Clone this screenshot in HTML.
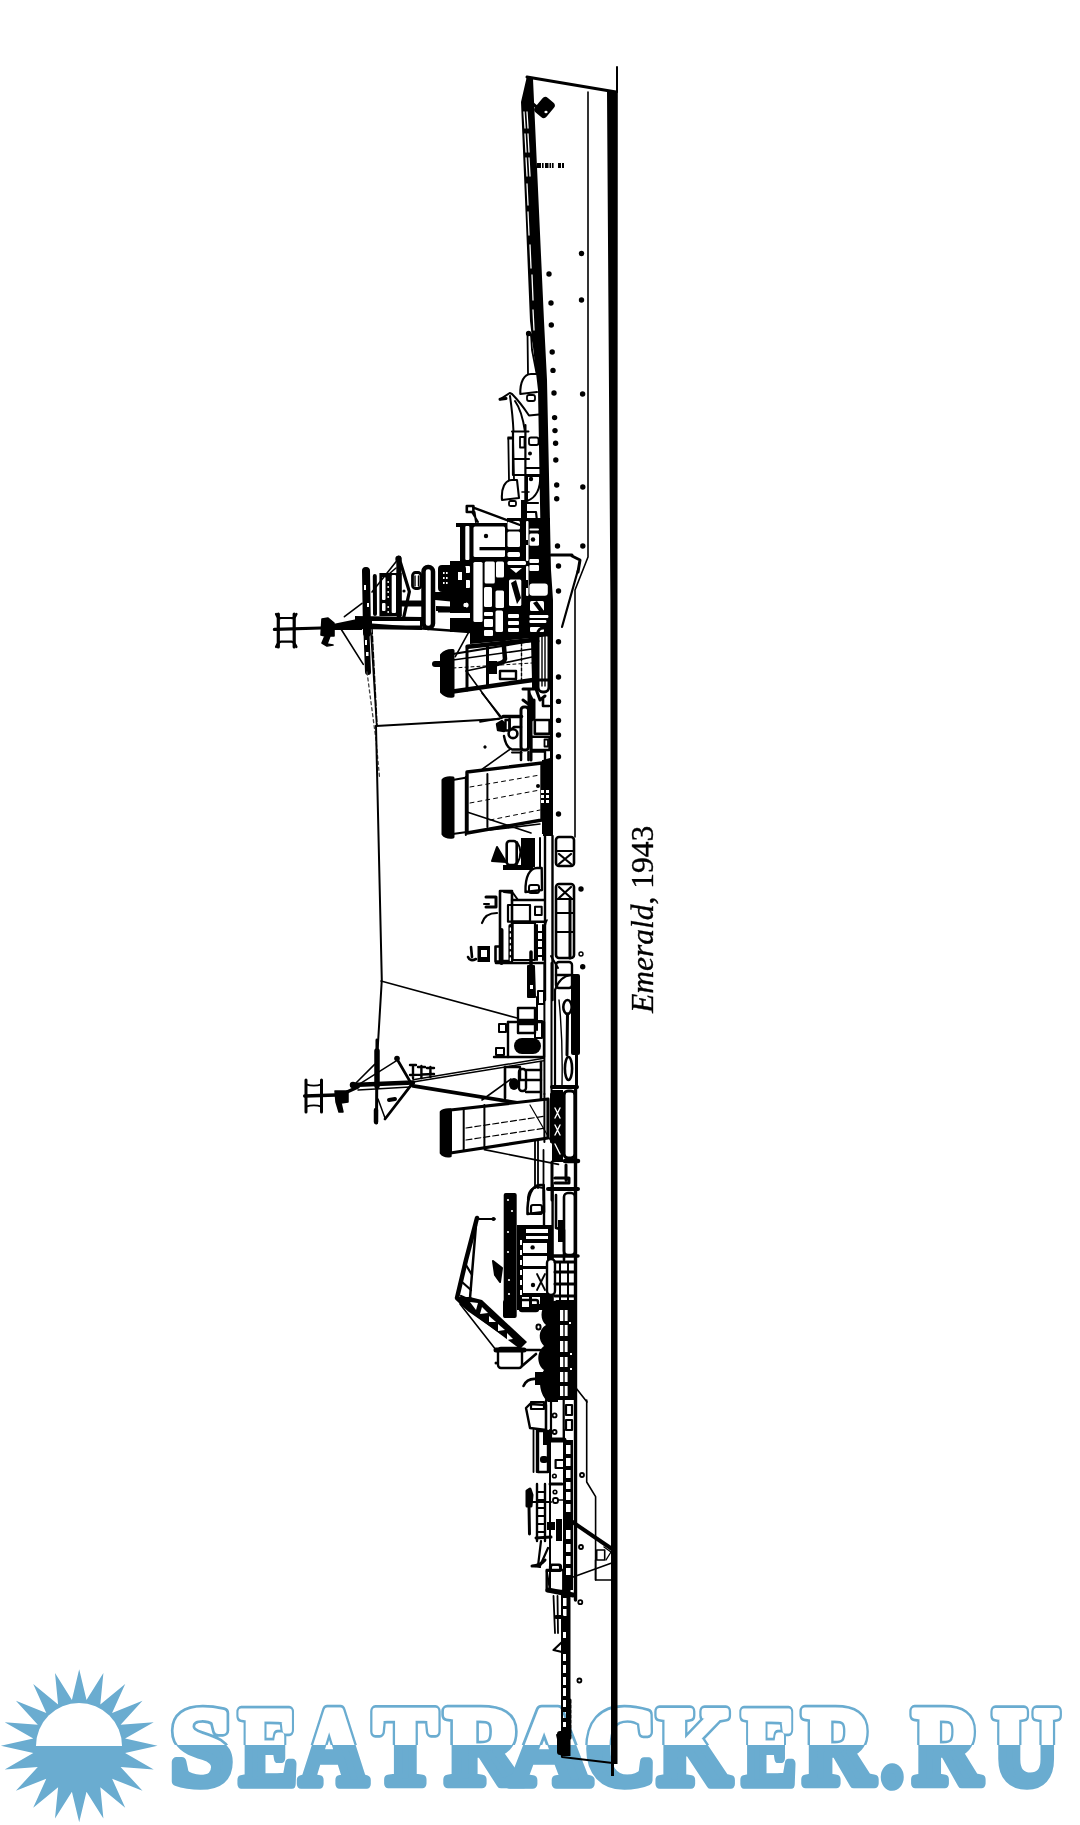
<!DOCTYPE html>
<html><head><meta charset="utf-8">
<style>
html,body{margin:0;padding:0;background:#fff;width:1080px;height:1825px;overflow:hidden}
svg{display:block}
</style></head><body>
<svg width="1080" height="1825" viewBox="0 0 1080 1825">
<defs>
<clipPath id="topc"><rect x="0" y="1600" width="1080" height="145"/></clipPath>
<clipPath id="botc"><rect x="0" y="1745" width="1080" height="80"/></clipPath>
</defs>
<g id="ship" fill="none" stroke="#000" stroke-linecap="round" stroke-linejoin="round">
<!-- waterline -->
<polygon points="607,92 617.8,92 617.5,600 617.5,1764 611,1764 611,1300 610.4,600" fill="#000" stroke="none"/><rect x="611" y="1763" width="3" height="13" fill="#000" stroke="none"/>
<line x1="617" y1="67" x2="617" y2="92" stroke-width="2"/>
<path d="M527 77 L616 92" stroke-width="3"/>
<path d="M588 92 L588 557 L575 590 L575 837" stroke-width="1.6"/>
<!-- R1 stern -->
<polygon points="521,102 527,76 533,79 544,321 547,380 551,570 553,600 553,836 543,836 543,760 550,758 550,640 542,628 541,560 538,390 530,321" fill="#000" stroke="none"/>
<g stroke="#fff" stroke-width="1.3">
<path d="M524 112 L525 128 M527 112 L528 128 M525 134 L526 152 M528 134 L529 152 M526 158 L527 176 M529 158 L530 176 M527 184 L528 205 M528 212 L529 235 M530 245 L531 268 M532 275 L533 300 M533 310 L534 330"/>
</g>
<rect x="537" y="98" width="15" height="19" rx="4" transform="rotate(40 544.5 107.5)" fill="#000" stroke="none"/><ellipse cx="546" cy="112" rx="1.6" ry="1.2" fill="#fff" stroke="none"/><path d="M533 104 L538 108" stroke-width="3"/>
<g fill="#000" stroke="none"><rect x="537" y="163" width="4" height="5"/><rect x="542" y="163" width="1.6" height="5"/><rect x="545" y="163" width="3.5" height="5"/><rect x="549.5" y="163" width="1.6" height="5"/><rect x="552" y="163" width="1.6" height="5"/><rect x="558" y="163" width="3" height="5"/><rect x="562" y="163" width="2" height="5"/></g>
<!-- R2 y320-560 -->
<g fill="#000" stroke="none">
<circle cx="581.5" cy="253.5" r="2.7"/><circle cx="549" cy="274" r="2.7"/><circle cx="551" cy="303" r="2.7"/><circle cx="551.3" cy="325" r="2.7"/><circle cx="581.5" cy="300" r="2.7"/>
<circle cx="552.2" cy="352" r="2.7"/><circle cx="553" cy="370.4" r="2.7"/><circle cx="554" cy="393" r="2.7"/><circle cx="582.6" cy="394" r="2.7"/><circle cx="554.6" cy="417.6" r="2.7"/><circle cx="555" cy="430.6" r="2.7"/><circle cx="555.6" cy="443.3" r="2.7"/><circle cx="555.8" cy="460" r="2.7"/><circle cx="556.7" cy="485" r="2.7"/><circle cx="582.8" cy="487" r="2.7"/><circle cx="556.7" cy="498.8" r="2.7"/><circle cx="557.5" cy="546" r="2.7"/><circle cx="582.8" cy="546" r="2.7"/>
</g>
<g stroke-width="1.8">
<path d="M527.5 333 L528 374 M531 334 L532 350 L536.5 373"/>
<circle cx="528.6" cy="333.5" r="1.8" fill="#000"/>
<path d="M531 335 L536 335 L537 352 Z" fill="#000"/>
<path d="M520.3 394 C520 382 524 374 531 374 L537 374 M520.3 394 L537 392" stroke-width="2.1"/>
<rect x="527" y="395" width="8" height="6" rx="2" stroke-width="1.8"/>
<path d="M500 399.3 L509.7 393 L512 394 C518 400 522 405 529 415.5 L539 414.5" stroke-width="2"/>
<path d="M500 399.3 L506 398.5" stroke-width="3"/>
<path d="M510 396 C512 410 513 420 513.5 431.6 M515 401 C520 408 523 418 525 431.6 M512 431.6 L528.5 431.6" stroke-width="2"/>
<!-- aft control block -->
<path d="M513 432 L513 475 M525.4 425 L525.4 560 M513 459 L529 459 M513 475 L540 475 M527 468 L540 468" stroke-width="2.2"/>
<rect x="520" y="437" width="4.5" height="10.5" stroke-width="1.8"/>
<rect x="529" y="437.5" width="9.5" height="7.5" rx="2" stroke-width="1.8"/>
<circle cx="530" cy="453.5" r="2" fill="#000" stroke="none"/>
<path d="M508.3 438 L509 480 M513 438 L514 480" stroke-width="1.8"/>
<rect x="507.5" y="436.5" width="5" height="3" fill="#000" stroke="none"/>
<path d="M502 500 C501 488 505 480 512 480 L517 480 L519 498 Z" stroke-width="2.1"/>
<rect x="509" y="501" width="7" height="5" rx="1.5" stroke-width="1.8"/>
<path d="M527 476 L540 476 C541 488 536 498 527 501 Z" stroke-width="2"/>
<circle cx="531" cy="479" r="2.2" fill="#000" stroke="none"/>
<path d="M522 492 L529 492" stroke-width="1.6"/>
<rect x="521" y="500" width="6" height="60" fill="#000" stroke="none"/>
<path d="M527 503 L538 503 M527 512 L536 512 L537 521 L528 521 M527 529 L538 529 M527 540 L538 540 M532 552 L540 552" stroke-width="2.2"/>
<path d="M551 555 L572 555" stroke-width="3"/>
</g>
<!-- R3 y530-680 aft superstructure -->
<g stroke-width="2.2">
<!-- dense block right -->
<polygon points="456,523 507,523 507,518 550,518 550,636 532,638 470,644 470,632 450,632 450,561 460,561 460,527 456,527" fill="#000" stroke="none"/>
<g fill="#fff" stroke="none">
<rect x="473.5" y="526.5" width="31.5" height="30.5" rx="1.5"/>
<rect x="465.3" y="526" width="4.1" height="34" rx="1"/>
<rect x="507.5" y="521" width="12.5" height="8.5" rx="1.5"/>
<rect x="507.5" y="531.6" width="12.5" height="15.4" rx="1.5"/>
<rect x="507.5" y="552" width="12.5" height="5" rx="1.5"/>
<rect x="507.5" y="561" width="18.5" height="4" rx="1.5"/>
<polygon points="510,568 522,568 516,573"/>
<rect x="529.4" y="528.5" width="9.6" height="2" rx="1"/>
<rect x="529.4" y="533.6" width="9.6" height="12.2" rx="1.5"/>
<rect x="529.4" y="559" width="9.6" height="4" rx="1"/>
<rect x="529.4" y="565" width="9.6" height="6" rx="1"/>
<rect x="473.4" y="562" width="9.2" height="60" rx="1.5"/>
<rect x="484.6" y="561.5" width="10.2" height="22" rx="1.5"/>
<rect x="496" y="561.5" width="8" height="16" rx="1.5"/>
<rect x="509" y="579.4" width="12.3" height="26.6" rx="1.5"/>
<rect x="529.4" y="583.5" width="18.4" height="12.2" rx="3"/>
<rect x="495.5" y="590.6" width="8.5" height="17.4" rx="1.5"/>
<rect x="484" y="587" width="8" height="20" rx="1.5"/>
<rect x="484" y="612" width="9" height="4" rx="1"/>
<rect x="484" y="619" width="9" height="8" rx="1"/>
<rect x="495.5" y="610.5" width="7.5" height="21.5" rx="1.5"/>
<rect x="508" y="614" width="11" height="4" rx="1"/>
<rect x="508" y="621" width="11" height="4" rx="1"/>
<rect x="508" y="628" width="11" height="4" rx="1"/><rect x="484" y="630" width="9" height="6" rx="1"/><rect x="530" y="627" width="14" height="5" rx="1"/>
<rect x="529.4" y="615" width="19" height="3" rx="1"/>
<rect x="529.4" y="620" width="17" height="3" rx="1"/>
<rect x="530" y="601" width="14" height="10" rx="1.5"/>
<rect x="465" y="566" width="5" height="7" rx="1"/>
<rect x="464" y="580" width="6" height="8" rx="1"/>
<circle cx="466" cy="605" r="2.6"/>
<rect x="526" y="521" width="2.5" height="40" rx="1"/><rect x="526" y="566" width="2.5" height="30" rx="1"/>
<rect x="450" y="613" width="20" height="5"/>
</g>
<g fill="#000" stroke="none">
<rect x="479.5" y="547" width="25.5" height="3.3"/>
<circle cx="486" cy="536" r="2.2"/>
<circle cx="533" cy="539.5" r="2.2"/>
<polygon points="511,583 516,580 521,598 517,604"/>
<polygon points="533,603 537,601 544,611 539,611"/>
<rect x="526" y="540" width="2" height="5"/>
<rect x="526" y="580" width="2" height="8"/>
</g>
<path d="M466.8 506 L473.4 506 L473.4 512 L466.8 512 Z" fill="none" stroke-width="2.6"/>
<path d="M473.4 507.6 L521.3 525.5" stroke-width="2.4"/>
<path d="M472 512 L478 522 M474.5 512 L476 522" stroke-width="2"/>
<rect x="438" y="597" width="14" height="3" fill="#000" stroke="none"/>
<rect x="438" y="609" width="14" height="3.5" fill="#000" stroke="none"/>
<!-- pom-pom / directors -->
<rect x="438" y="565" width="28" height="27" rx="4" fill="#000" stroke="none"/>
<g fill="#fff" stroke="none"><rect x="443" y="572" width="1.6" height="2"/><rect x="446" y="572" width="1.6" height="2"/><rect x="443" y="577" width="1.6" height="2"/><rect x="446" y="577" width="1.6" height="2"/><rect x="443" y="582" width="1.6" height="2"/><rect x="446" y="582" width="1.6" height="2"/><rect x="458" y="572" width="4" height="8"/></g>
<rect x="423.5" y="567" width="9.5" height="61" rx="4.5" stroke-width="4.5"/>
<path d="M428 575 L428 622" stroke="#fff" stroke-width="1.2" stroke-dasharray="2 6"/>
<rect x="412.5" y="572.5" width="8.5" height="16" rx="3" stroke-width="2.8"/>
<path d="M415 576 L415 586 M418.5 576 L418.5 586" stroke-width="1.4"/>
<polygon points="435,592 466,592 466,603 435,600" fill="#000" stroke="none"/>
<polygon points="436,606 466,607 466,612 436,611" fill="#000" stroke="none"/>
<path d="M401.7 603.5 L422 603.5" stroke-width="6"/>
<!-- aft AA platform -->
<rect x="379.4" y="573" width="22.3" height="43" fill="#000" stroke="none"/>
<g fill="#fff" stroke="none">
<rect x="382" y="577" width="3.5" height="23" rx="1"/>
<rect x="391.7" y="575" width="4.3" height="38" rx="1"/>
<rect x="382" y="603" width="3.5" height="8" rx="1"/>
<circle cx="388.2" cy="582" r="0.9"/><circle cx="388.2" cy="587" r="0.9"/><circle cx="388.2" cy="592" r="0.9"/><circle cx="388.2" cy="597" r="0.9"/><circle cx="388.2" cy="607" r="0.9"/><circle cx="388.2" cy="612" r="0.9"/>
</g>
<path d="M374.8 576 L375 614" stroke-width="4"/>
<path d="M398.8 558 L399 616" stroke-width="5"/>
<circle cx="398.5" cy="559" r="3.2" fill="#000" stroke="none"/>
<path d="M400 561 L409.4 591.7 L402.8 621.7" stroke-width="3.2"/>
<path d="M396 568 L389 574" stroke-width="1.6"/>
<circle cx="404" cy="591" r="1.6" fill="#000" stroke="none"/>
<polygon points="355,616 422,617 422,630 355,629" fill="#000" stroke="none"/>
<rect x="372" y="621" width="48" height="4.5" fill="#fff" stroke="none"/>
<!-- mainmast -->
<path d="M366 571 L367 633" stroke-width="8"/>
<path d="M366.5 633 L368 672" stroke-width="6"/>
<g fill="#fff" stroke="none"><rect x="364" y="585" width="2" height="5"/><rect x="367" y="603" width="2" height="4"/><rect x="365" y="640" width="2" height="5"/><rect x="366" y="652" width="2.5" height="4"/></g>
<circle cx="366" cy="571" r="3.5" fill="#000" stroke="none"/>
<path d="M367 672 L376 740 L379.6 778" stroke-width="1.3" stroke-dasharray="3 3" stroke="#444"/>
<path d="M371 633 L376.7 726" stroke-width="1.6"/>
<path d="M274.4 629.4 L321 628" stroke-width="3.2"/>
<polygon points="333,624 362,618 362,630 333,630" fill="#000" stroke="none"/>
<path d="M362 624 L470 632" stroke-width="2.4"/>
<path d="M344.4 616.7 L362 603.3 M341 629 L363.3 664.4 M372 592 L399 558" stroke-width="1.6"/>
<path d="M322 619 L328 618 L334 623 L334 636 L330 636 L327 644 L333 645 L327 646 L322 643 L325 636 L321 635 Z" fill="#000" stroke-width="1.6"/>
<!-- H yard -->
<path d="M278.3 614 L278.3 647 M294.2 614 L294.2 647" stroke-width="3.2"/>
<path d="M276 614 Q278 619 281 618 L291.5 618 Q294.5 619 296.5 614 M276 647 Q278 642 281 641.7 L291.5 641.7 Q294.5 642 296.5 647" stroke-width="2.2"/>
</g>
<!-- R4 funnel1 y620-740 -->
<g stroke-width="2.2">
<circle cx="558.5" cy="566" r="2.7" fill="#000" stroke="none"/><circle cx="558.5" cy="591" r="2.7" fill="#000" stroke="none"/>
<circle cx="558.5" cy="641.7" r="2.7" fill="#000" stroke="none"/><circle cx="558.5" cy="677" r="2.7" fill="#000" stroke="none"/><circle cx="558.5" cy="701.4" r="2.7" fill="#000" stroke="none"/><circle cx="558.5" cy="720.4" r="2.7" fill="#000" stroke="none"/><circle cx="558.5" cy="735" r="2.7" fill="#000" stroke="none"/>
<path d="M578 570 L562 627" stroke-width="2.2"/>
<path d="M572 556 L580 560 L578 572" stroke-width="3"/>
<!-- funnel body -->
<path d="M453 654 L532 641 L533 680 L453 691 Z" fill="#fff" stroke-width="2"/>
<path d="M467.6 646.7 L532 640" stroke-width="4.5"/>
<path d="M453 691.5 L533 680" stroke-width="4.5"/>
<path d="M441.5 655 Q446 650 453 650.5 L453 696 Q446 697 441.5 692 Z" fill="#000" stroke-width="3"/>
<path d="M435 664 L442 664" stroke-width="6"/>
<path d="M467 648 L467 690 M487.5 646 L487.5 686" stroke-width="3"/>
<path d="M521.5 643 L521.5 680" stroke-width="1.4" stroke-dasharray="3 2"/>
<path d="M503.5 641 L505 659 Q504 663 497 664" stroke-width="4.5" fill="none"/>
<rect x="488" y="661" width="9" height="13" fill="#000" stroke="none"/>
<path d="M453 660 L532 649 M466 671 L532 657" stroke-width="1.6"/>
<path d="M453 668 L532 663" stroke-width="1" stroke-dasharray="3 3"/>
<rect x="500" y="671" width="16" height="8" stroke-width="2.4"/>
<path d="M466.4 671 L500 717 M455.3 656.7 L468.7 632.2" stroke-width="1.6"/>
<!-- motor boat -->
<rect x="532" y="636" width="7" height="54" fill="#000" stroke="none"/><path d="M523 689 L536 689 L540 700 L545 696 M523 700 L531 706" stroke-width="3"/>
<rect x="538" y="628" width="11" height="64" rx="5" stroke-width="3"/>
<path d="M542 634 L542 686 M545 634 L545 686" stroke-width="1.4"/>
<path d="M534 641 L538 641 M536 680 L548 680" stroke-width="3"/>
<!-- aft wire -->
<path d="M376 726 L499 719" stroke-width="1.8"/>
<path d="M372 628 L377 725" stroke-width="1.5" stroke-dasharray="6 2"/>
<!-- lower block -->
<path d="M503 716.5 L521.5 716.5" stroke-width="3.5"/>
<path d="M497 724 L502 721 L505 724 L504 731 L498 730 Z" fill="#000" stroke-width="2.4"/>
<rect x="505.5" y="720" width="4" height="10.5" stroke-width="2.4"/>
<path d="M509.6 719 L509.6 731 L514 727 L521 727" stroke-width="2.6"/>
<circle cx="513" cy="733.7" r="4.4" fill="#fff" stroke-width="2.6"/>
<path d="M504 736 C505 742 508 748 512 749.5 L521.5 749.5" stroke-width="2.4"/>
<path d="M512 752.5 L521.5 752.5" stroke-width="2"/>
<rect x="521" y="707" width="7.5" height="43" rx="3" stroke-width="3"/>
<path d="M521 752 L521 760 M528.5 752 L528.5 760" stroke-width="2.6"/>
<path d="M529 690 L529 718 Q531 722 534 718 L534 700" fill="#000" stroke-width="3"/>
<path d="M534.8 720 L549.6 720 L549.6 733.7 L534.8 733.7 Z" stroke-width="2.6"/>
<path d="M531 736.7 L549.6 736.7 L549.6 750 L531 750 Z" stroke-width="2.6"/>
<rect x="544.5" y="739.5" width="3.5" height="7" stroke-width="1.8"/>
<path d="M531 751.5 L545 751.5 L545 760.4" stroke-width="2.4"/>
<path d="M531 720 L531 760" stroke-width="3"/>
<path d="M543 699 L543 706 L549 706" stroke-width="2.6"/>
<path d="M480 721.8 L502 718 M482 693 L502 718" stroke-width="1.8"/>
<circle cx="485" cy="747" r="1.4" fill="#000" stroke="none"/>
</g>
<!-- R5 funnel2 y730-850 -->
<g stroke-width="2.2">
<circle cx="558.5" cy="756.7" r="2.7" fill="#000" stroke="none"/><circle cx="558.5" cy="814" r="2.7" fill="#000" stroke="none"/>
<circle cx="485" cy="747" r="1.5" fill="#000" stroke="none"/>
<path d="M467 772 L542 763 L542 820 L467 833 Z" fill="#fff" stroke-width="3.4"/>
<path d="M452.6 780 L467 777.5 M452.6 834 L467 832" stroke-width="2"/>
<path d="M443 780 Q446 777 453 778 L453 837 Q446 838 443 834 Z" fill="#000" stroke-width="3"/>
<path d="M465.8 777 L465.8 835 M487.4 774 L487.4 827" stroke-width="2"/>
<path d="M470 787 L540 775 M470 803 L540 790 M490 820 L540 810" stroke-width="1" stroke-dasharray="4 4"/>
<path d="M482.5 769 L511 748.5 M467 812 L531 833 M490 830 L540 824" stroke-width="1.6"/>
<rect x="542" y="760" width="9" height="74" fill="#000" stroke="none"/>
<g fill="#fff" stroke="none"><rect x="541" y="790" width="3" height="3"/><rect x="546" y="790" width="3" height="3"/><rect x="541" y="795" width="3" height="3"/><rect x="546" y="795" width="3" height="3"/><rect x="541" y="800" width="3" height="3"/><rect x="546" y="800" width="3" height="3"/></g>
<circle cx="538" cy="786" r="2" fill="#000" stroke="none"/>
</g>
<!-- R6 y840-960 -->
<g stroke-width="2.2">
<!-- deck edge after break -->
<path d="M545 836 L545 1000 M552.5 836 L552.5 1000" stroke-width="2.4"/>
<!-- X boxes -->
<rect x="556" y="837" width="18" height="29" rx="3" stroke-width="2.6"/>
<path d="M556 851 L574 851 M559 854 L571 864 M571 854 L559 864" stroke-width="2.2"/>
<rect x="556" y="884" width="18" height="74" rx="3" stroke-width="2.6"/>
<path d="M559 887 L571 898 M571 887 L559 898 M556 899 L574 899 M556 913 L574 913 M556 932 L574 932" stroke-width="2.2"/>
<path d="M570 899 L570 958" stroke-width="3"/>
<circle cx="581" cy="889" r="2.7" fill="#000" stroke="none"/>
<circle cx="581" cy="954" r="2" stroke-width="1.4"/>
<!-- searchlight / gun top -->
<path d="M492 861 L497 847 L503 857 L506 862 Z" fill="#000" stroke-width="2"/>
<rect x="506.7" y="841" width="10" height="24" rx="3" stroke-width="2.6"/>
<path d="M517 842 Q524 852 517 864" stroke-width="2"/>
<rect x="521" y="838" width="14" height="29" fill="#000" stroke="none"/><path d="M540 838 L540 868" stroke-width="2"/>
<rect x="503" y="865" width="30" height="5" fill="#000" stroke="none"/>
<path d="M525.5 892 C525 876 530 868 537 868 L541.7 868 L542 890 Z" stroke-width="2.4"/>
<rect x="529" y="885" width="10" height="8" rx="2" stroke-width="2"/>
<!-- bridge -->
<rect x="500" y="891" width="12" height="70" stroke-width="2.6"/>
<path d="M512 900 L544 900 M512 921.7 L544 921.7" stroke-width="2.4"/>

<path d="M504 892 L513 893 L518 900" stroke-width="2"/>
<rect x="508" y="905" width="22" height="16.7" stroke-width="2.2"/>
<rect x="535" y="906.7" width="6.7" height="8.3" stroke-width="2"/>
<path d="M537 925 L537 960 M543 925 L543 960" stroke-width="2"/>
<path d="M537 932 L543 932 M537 940 L543 940 M537 948 L543 948 M537 956 L543 956" stroke-width="2"/>
<rect x="512.5" y="923" width="22.5" height="37" stroke-width="2.2"/>
<path d="M486 897 L496 897 L496 907 L486 907" stroke-width="3"/>
<path d="M484 904 L489 904" stroke-width="2"/>
<path d="M482 923 Q485 913 497 913" stroke-width="2.2"/>
<path d="M547 920 Q544 925 545 935" stroke-width="1.6"/>
</g>
<!-- R7 y950-1080 -->
<g stroke-width="2.2">
<circle cx="582.7" cy="966.7" r="2.7" fill="#000" stroke="none"/>
<path d="M496 963 L544 963" stroke-width="2.6"/>
<path d="M468 957 Q470 962 476 959 M471 947 L472 957" stroke-width="2.6"/>
<path d="M477.5 946 L490 946 L490 962 L477.5 962 Z" fill="#000" stroke="none"/>
<rect x="481" y="950" width="6" height="7" fill="#fff" stroke="none"/>
<rect x="495.5" y="946.5" width="6" height="15" stroke-width="2.6"/>
<path d="M501.5 930 L501.5 963" stroke-width="4"/>
<path d="M510.4 926 L510.4 962" stroke-width="4"/>
<path d="M510.4 928 L510.4 962" stroke="#fff" stroke-width="1.3" stroke-dasharray="2.5 3.5"/>
<path d="M531 952 L531 976" stroke-width="3.5"/>
<path d="M544.4 963 L544.4 1094 M551.5 963 L551.5 1094" stroke-width="2"/>
<!-- boat -->
<path d="M555 990 L555 1087" stroke-width="2.2"/>
<path d="M555 990 Q560 976 571 975" stroke-width="2.2"/>
<rect x="571" y="974" width="9" height="81" rx="2" fill="#000" stroke="none"/>
<ellipse cx="567.5" cy="1007" rx="4.2" ry="7" stroke-width="2.6"/>
<path d="M567.5 1014 L567 1055" stroke-width="3"/>
<path d="M559 1000 Q563 1040 562 1085" stroke-width="1.4"/>
<rect x="556" y="962" width="16" height="26" rx="3" stroke-width="2.4"/>
<path d="M556 975 L571 975" stroke-width="2.4"/>
<path d="M551 956 L558 968" stroke-width="2"/>
<path d="M528 966 L534 966 L535 997 L528 997 Z" fill="#000" stroke-width="2"/>
<rect x="530" y="985" width="3" height="4" fill="#fff" stroke="none"/>
<rect x="538" y="991" width="6" height="13" stroke-width="2"/>
<path d="M537 997 L537 1030" stroke-width="2"/>
<rect x="518" y="1008" width="17" height="12" stroke-width="2.4"/>
<rect x="518" y="1024" width="17" height="9" stroke-width="2.4"/>
<path d="M508 1022 L544 1022 L544 1057 L494 1057" stroke-width="2.4"/>
<path d="M508 1022 L508 1057" stroke-width="2.4"/>
<rect x="499" y="1024" width="7" height="8" stroke-width="2"/>
<rect x="496" y="1048" width="8" height="7" stroke-width="2"/>
<rect x="514" y="1038" width="27" height="16" rx="8" fill="#000" stroke="none"/>
<rect x="535" y="1021" width="7" height="17" stroke-width="2"/>
<path d="M381 981 L517 1018" stroke-width="1.6"/>

</g>
<!-- R8 foremast + funnel3 y1040-1200 -->
<g stroke-width="2.2">
<path d="M306 1080 L306 1112 M321.5 1080 L321.5 1112" stroke-width="3"/>
<path d="M306 1084.4 Q314 1087 321.5 1084.4 M306 1106.7 Q314 1104 321.5 1106.7" stroke-width="1.8"/>
<path d="M304.7 1096 L336 1095" stroke-width="3.5"/>
<path d="M335 1091 L348 1091 L348 1102 L341 1103 L343 1112 L339 1112 L336 1102 Z" fill="#000" stroke-width="1.5"/>
<path d="M347 1092 L358 1087" stroke-width="3.5"/>
<circle cx="353" cy="1085" r="3.2" fill="#000" stroke="none"/>
<path d="M352 1085 L413 1082.5" stroke-width="4.5"/>
<path d="M413 1085.8 L544 1107.2" stroke-width="3.8"/>
<path d="M358 1090 L410 1087" stroke-width="1.5"/>
<path d="M377 1040 L376.5 1123" stroke-width="3"/>
<path d="M377 1051 L377 1086" stroke-width="5.5"/>
<path d="M376 1110 L376 1122" stroke-width="4.5"/>
<path d="M352.2 1086.8 L374.6 1064.4 M355 1086.8 L397 1060.4 M378 1099 L385 1118" stroke-width="1.5"/>
<path d="M396.4 1058 L411.7 1084.4 L385 1119" stroke-width="2.8"/>
<circle cx="397" cy="1058.5" r="2.8" fill="#000" stroke="none"/>
<path d="M389 1100 L395 1099" stroke-width="4"/>
<path d="M413 1065 L413 1078 M421.4 1066 L421.4 1078 M430.4 1067 L430.4 1077 M410 1065 L416 1065 M418 1067 L425 1067 M427 1068 L434 1068 M410 1075 L434 1074" stroke-width="2.4"/>
<path d="M413 1079.7 L543.7 1058.3 M413 1082 L543.7 1060.8" stroke-width="1.5"/>
<!-- structure near fwd funnel top -->
<path d="M505 1067 L505 1098 M541 1062 L541 1100" stroke-width="2.6"/>
<path d="M505 1067 L520 1067 L520 1080 L541 1080" stroke-width="2.4"/>
<ellipse cx="514" cy="1084" rx="5" ry="6" fill="#000" stroke="none"/>
<rect x="519" y="1069" width="7" height="22" rx="3" stroke-width="2.4"/>
<path d="M526 1070 L541 1070 M526 1092 L541 1092" stroke-width="2.4"/>
<path d="M482 1100 L511 1079" stroke-width="1.6"/>
<!-- funnel 3 -->
<path d="M450.4 1110 L548 1099 L548 1138 L450.4 1153 Z" fill="#fff" stroke-width="3.2"/>
<path d="M441 1112 Q444 1109 450.4 1109.6 L450.4 1156 Q444 1157 441 1153 Z" fill="#000" stroke-width="2.6"/>
<path d="M463.7 1108 L463.7 1151 M484.4 1105 L484.4 1148" stroke-width="2"/>
<path d="M466 1128 L546 1116 M466 1140 L546 1128" stroke-width="1.2" stroke-dasharray="6 3"/>
<path d="M484.4 1149.6 L558.5 1164.4" stroke-width="1.6"/>
<path d="M530 1105 L556 1150" stroke-width="1.2"/>
</g>
<!-- R9 right strip y1050-1200 -->
<g stroke-width="2.2">
<path d="M576.5 1050 L576.5 1088" stroke-width="3"/>
<ellipse cx="568.5" cy="1068.5" rx="3.6" ry="11.5" stroke-width="2.6"/>
<path d="M552 1087 L577 1087" stroke-width="4"/>
<rect x="564" y="1091" width="11" height="67" rx="4" stroke-width="3.2"/>
<path d="M575.5 1090 L575.5 1600" stroke-width="3.4"/>
<rect x="552" y="1090" width="11" height="72" fill="#000" stroke="none"/>
<path d="M555 1108 L560 1118 M560 1108 L555 1118 M555 1125 L560 1135 M560 1125 L555 1135 M555 1144 L560 1154" stroke="#fff" stroke-width="1.4"/>
<path d="M544.4 1094 L544.4 1142 M551 1094 L551 1142" stroke-width="2"/>
<path d="M565 1161 L578 1161" stroke-width="4.5"/>
<path d="M552 1162 L552 1200 M566 1165 L566 1180 M555 1178 L569 1178 L569 1183 L555 1183" stroke-width="3"/>
<path d="M535 1141 L535 1188 M538 1141 L538 1188 M543.5 1150 L543.5 1200" stroke-width="1.8"/>
<path d="M528 1200 C528 1192 532 1187 538 1187 L543.5 1188" stroke-width="2.2"/>
</g>
<!-- R10 y1180-1320 -->
<g stroke-width="2.2">
<path d="M527.5 1214 C527 1196 532 1185 540 1185 L543.7 1185 L544 1212 Z" stroke-width="2.6"/>
<rect x="531" y="1205" width="11" height="9" rx="2" stroke-width="2.2"/>
<path d="M544 1190 L544 1228 M552.6 1185 L552.6 1330" stroke-width="2.4"/>
<path d="M548 1189 L578 1189" stroke-width="4"/>
<rect x="564" y="1193" width="11" height="62" rx="4" stroke-width="2.6"/>
<path d="M556 1195 L556 1228 M556 1228 L564 1230 L564 1260" stroke-width="2.6"/>
<rect x="558" y="1220" width="5" height="22" fill="#000" stroke="none"/>
<path d="M552 1256 L578 1256" stroke-width="3.5"/>
<!-- crane post -->
<rect x="503.7" y="1193" width="13" height="125" rx="2" fill="#000" stroke="none"/>
<g fill="#fff" stroke="none"><circle cx="508" cy="1200" r="1.1"/><circle cx="512" cy="1211" r="1.1"/><circle cx="508" cy="1232" r="1.1"/><circle cx="508" cy="1252" r="1.1"/><circle cx="509" cy="1280" r="1.1"/><circle cx="509" cy="1294" r="1.1"/><circle cx="509" cy="1306" r="1.1"/></g>
<!-- crane boom -->
<path d="M477 1219 L494.8 1219" stroke-width="2"/>
<circle cx="493.5" cy="1219" r="2" fill="#000" stroke="none"/>
<path d="M477 1218 L466 1260 L457 1298 L470 1310 L503 1333" stroke-width="4.5"/>
<path d="M476 1225 L470 1298 L503 1322" stroke-width="2.5"/>
<path d="M466 1265 L472 1275 M462 1282 L471 1290 M461 1296 L470 1300 M473 1305 L480 1315 M482 1310 L488 1322" stroke-width="2.2"/>
<!-- hangar block -->
<rect x="517" y="1225" width="35" height="85" fill="#000" stroke="none"/>
<g fill="#fff" stroke="none">
<rect x="526" y="1229" width="22" height="4"/>
<rect x="526" y="1236" width="22" height="3"/>
<rect x="523" y="1243" width="24" height="10"/>
<rect x="523" y="1256" width="24" height="10"/>
<rect x="523" y="1269" width="24" height="24"/>
<rect x="520" y="1240" width="2" height="5"/><rect x="520" y="1250" width="2" height="5"/><rect x="520" y="1260" width="2" height="5"/><rect x="520" y="1270" width="2" height="5"/><rect x="520" y="1280" width="2" height="5"/><rect x="520" y="1290" width="2" height="5"/>
<rect x="522" y="1297" width="7" height="10"/><rect x="532" y="1297" width="8" height="7"/>
</g>
<circle cx="532.6" cy="1247.4" r="2.2" fill="#000" stroke="none"/>
<circle cx="533" cy="1285" r="2.2" fill="#000" stroke="none"/>
<path d="M537 1274 L545 1290 M545 1274 L537 1290" stroke-width="1.8"/>
<rect x="547" y="1259" width="8" height="36" rx="4" fill="#fff" stroke-width="2.4"/>
<path d="M555 1262 L575 1262 M555 1272 L575 1272 M555 1284 L575 1284 M555 1296 L575 1296" stroke-width="3"/>
<path d="M560 1262 L560 1310 M568 1262 L568 1310" stroke-width="2"/>
<path d="M493 1261 L502 1268 L500 1282 L495 1275 Z" fill="#000" stroke-width="2"/>
</g>
<!-- R11 y1300-1440 -->
<g stroke-width="2.2">
<polygon points="457,1297 470,1297 482,1300 527,1342 520,1349 460,1304" fill="#000" stroke="none"/>
<g fill="#fff" stroke="none">
<polygon points="470,1302 478,1303 476,1310"/>
<polygon points="482,1307 488,1313 480,1314"/>
<polygon points="489,1316 496,1322 489,1322"/>
<polygon points="498,1324 505,1330 498,1331"/>
<polygon points="507,1333 513,1339 507,1340"/>
</g>
<path d="M460 1304 L497.6 1352" stroke-width="1.6"/>
<rect x="498" y="1348" width="24" height="20" rx="3" stroke-width="2.4"/>
<path d="M496 1350 L524 1350" stroke-width="5"/>
<path d="M522 1366 L536 1354 M524 1350 L540 1350" stroke-width="2.6"/>
<circle cx="496" cy="1363" r="1.5" fill="#000" stroke="none"/>
<!-- black column with slots -->
<rect x="556" y="1300" width="21" height="100" fill="#000" stroke="none"/>
<g fill="#fff" stroke="none">
<rect x="560" y="1310" width="7.6" height="11"/><rect x="560" y="1325" width="7.6" height="11"/><rect x="560" y="1341" width="7.6" height="11"/><rect x="560" y="1357" width="7.6" height="10"/><rect x="560" y="1372" width="7.6" height="10"/><rect x="560" y="1386" width="7.6" height="10"/>
<rect x="569" y="1322" width="2" height="2"/><rect x="570" y="1353" width="2" height="2"/><rect x="570" y="1368" width="2" height="2"/>
</g>
<path d="M564 1310 L564 1396" stroke-width="1.4"/>
<!-- dark AA blobs -->
<path d="M546 1303 C540 1310 540 1320 546 1325 C538 1330 538 1340 544 1346 C536 1352 537 1365 544 1370 C537 1380 540 1395 548 1402 L558 1402 L558 1300 Z" fill="#000" stroke="none"/>
<rect x="536.5" y="1324.6" width="4" height="5" rx="2" stroke-width="2"/>
<path d="M523.5 1386 Q527 1378 536.5 1379" stroke-width="2.6"/>
<rect x="535" y="1372" width="8" height="13" fill="#000" stroke="none"/>
<rect x="503" y="1300" width="12" height="18" rx="2" fill="#000" stroke="none"/>
<rect x="520" y="1300" width="18" height="11" rx="2" stroke-width="2.4"/>
<!-- knuckle -->
<path d="M574 1385.6 L587 1402" stroke-width="1.6"/>
<!-- fwd shield -->
<path d="M526 1408 L530 1428 L546 1430 L546 1405 L530 1404 Z" stroke-width="2.4"/>
<rect x="531" y="1402" width="13" height="7" stroke-width="2.2"/>
<path d="M546 1400 L546 1440 M551 1400 L551 1440 M563.7 1400 L563.7 1440" stroke-width="2.2"/>
<circle cx="554.6" cy="1415.4" r="2" stroke-width="1.8"/>
<circle cx="554.6" cy="1432" r="2" stroke-width="1.8"/>
<path d="M566 1405 L572 1405 L572 1415 L566 1415 Z M566 1420 L572 1420 L572 1430 L566 1430 Z" stroke-width="2.2"/>
</g>
<!-- R12 y1430-1590 bow -->
<g stroke-width="2.2">
<rect x="564.4" y="1440" width="8.6" height="150" fill="#000" stroke="none"/>
<g fill="#fff" stroke="none">
<rect x="566" y="1445" width="4.5" height="9"/><rect x="566" y="1458" width="4.5" height="8"/><rect x="566" y="1470" width="4.5" height="8"/><rect x="566" y="1482" width="4.5" height="7"/><rect x="566" y="1492" width="4.5" height="8"/><rect x="566" y="1504" width="4.5" height="8"/><rect x="566" y="1530" width="4.5" height="9"/><rect x="566" y="1544" width="4.5" height="8"/><rect x="566" y="1556" width="4.5" height="8"/><rect x="566" y="1568" width="4.5" height="7"/>
</g>
<path d="M586.7 1400 L586.7 1482 L595.6 1496.7 L595.6 1580 L611 1580" stroke-width="1.6"/>
<circle cx="582" cy="1475" r="2" stroke-width="1.8"/>
<circle cx="581" cy="1547" r="2" stroke-width="1.8"/>
<path d="M571 1521 L612 1549" stroke-width="4"/>
<path d="M571 1577.8 L611 1563.3" stroke-width="1.6"/>
<rect x="596.7" y="1550" width="8" height="10" stroke-width="1.6"/>
<path d="M604 1547 L611 1552 L606 1560" stroke-width="1.4"/>
<!-- left structures -->
<path d="M533.5 1430 L533.5 1472 M536.7 1430 L536.7 1472" stroke-width="1.8"/>
<rect x="538" y="1431" width="10" height="41" stroke-width="2.4"/>
<rect x="543" y="1431" width="6" height="14" fill="#000" stroke="none"/>
<rect x="540" y="1456" width="8" height="7" rx="3" fill="#000" stroke="none"/>
<path d="M550 1430 L550 1590 M564 1430 L564 1590" stroke-width="2"/>
<path d="M550 1440 L564 1440" stroke-width="5"/>
<rect x="555.6" y="1460" width="8.8" height="8" stroke-width="2.2"/>
<circle cx="554.4" cy="1476" r="1.8" stroke-width="1.6"/>
<circle cx="555" cy="1492" r="1.8" stroke-width="1.6"/>
<path d="M550 1484 L562 1484" stroke-width="3"/>
<rect x="553" y="1498" width="5" height="5" rx="2" stroke-width="1.8"/>
<path d="M558 1500 L564 1500" stroke-width="1.6"/>
<path d="M527 1491 L530 1489 L532 1495 L531 1506 L527 1506 Z" fill="#000" stroke-width="3"/>
<path d="M529 1506 L529.5 1534" stroke-width="3"/>
<path d="M532 1502 L551 1502" stroke-width="2"/>
<path d="M537 1484 L537 1541 M545 1484 L545 1541" stroke-width="2.4"/>
<path d="M537 1492 L545 1492 M537 1500 L545 1500 M537 1508 L545 1508 M537 1516 L545 1516 M537 1524 L545 1524 M537 1532 L545 1532" stroke-width="2"/>
<rect x="547" y="1522" width="8" height="8" fill="#000" stroke="none"/>
<rect x="556" y="1519" width="6" height="22" fill="#000" stroke="none"/>
<path d="M536 1538 L551 1537" stroke-width="3"/>
<path d="M541 1541 L538 1566 M548 1548 L540 1566 M533 1566 L540 1567" stroke-width="2.2"/>
<path d="M546.7 1571 L550 1590 M546.7 1571 L562 1570" stroke-width="2"/>
<rect x="551" y="1565" width="9" height="6" rx="2" stroke-width="2"/>
</g>
<!-- R13 y1560-1770 bow end -->
<g stroke-width="2.2">
<rect x="561" y="1590" width="9.5" height="166" fill="#000" stroke="none"/>
<g fill="#fff" stroke="none">
<rect x="563" y="1598" width="3.5" height="8"/><rect x="563" y="1609" width="3.5" height="7"/><rect x="563" y="1632" width="3" height="6"/><rect x="563" y="1654" width="3" height="7"/><rect x="563" y="1665" width="3" height="8"/><rect x="563" y="1677" width="3" height="8"/><rect x="563" y="1688" width="3" height="8"/><rect x="563" y="1700" width="3" height="7"/><rect x="563" y="1712" width="3" height="6"/><rect x="563" y="1722" width="3" height="5"/>
</g>
<path d="M570 1700 L570 1740" stroke-width="3" stroke-dasharray="3 2"/>
<path d="M557 1735 L562 1757 L612.6 1763" stroke-width="1.8"/>
<rect x="557" y="1731" width="8" height="24" rx="3" fill="#000" stroke="none"/>
<rect x="546.7" y="1570" width="16.6" height="21" stroke-width="2.4"/>
<rect x="550" y="1564.5" width="11" height="6.5" rx="2" stroke-width="2.2"/>
<path d="M548 1590 L573 1595" stroke-width="5"/>
<path d="M553.5 1596 L555 1633 M557.5 1596 L558 1633" stroke-width="1.8"/>
<path d="M556 1617 L562 1617" stroke-width="4"/>
<path d="M562 1642 L553.5 1650 L562 1652" stroke-width="2.2"/>
<circle cx="580.3" cy="1602.2" r="2" stroke-width="1.8"/>
<circle cx="579.4" cy="1680.5" r="2" stroke-width="1.8"/>
<path d="M595.6 1560 L595.6 1580" stroke-width="1.6"/>
<path d="M532 1566 Q540 1566 545 1560" stroke-width="3"/>
</g>
<!-- antenna wire -->
<path d="M376 726 L381.8 980 L377 1060" stroke-width="2" fill="none"/>
</g>
<g id="mark" style="mix-blend-mode:multiply">
<g fill="#6aacd0" stroke="none">
<polygon points="157.5,1745.8 125.1,1738.5 153.7,1722.2 120.6,1724.7 142.5,1700.8 112.1,1712.9 125.2,1683.9 100.3,1704.4 103.4,1673.0 86.5,1699.9 79.2,1669.3 71.9,1699.9 55.0,1673.0 58.1,1704.4 33.2,1683.9 46.3,1712.9 15.9,1700.8 37.8,1724.7 4.7,1722.2 33.3,1738.5 0.9,1745.8 33.3,1753.1 4.7,1769.4 37.8,1766.9 15.9,1790.8 46.3,1778.7 33.2,1807.7 58.1,1787.2 55.0,1818.6 71.9,1791.7 79.2,1822.3 86.5,1791.7 103.4,1818.6 100.3,1787.2 125.2,1807.7 112.1,1778.7 142.5,1790.8 120.6,1766.9 153.7,1769.4 125.1,1753.1"/>
</g>
<path d="M36 1746 A43 43 0 0 1 122 1746 Z" fill="#fff"/>
<g font-family="Liberation Serif" font-weight="bold" font-size="114" fill="#6aacd0" stroke="#6aacd0" stroke-width="12.8" stroke-linejoin="round" clip-path="url(#topc)">
<text transform="translate(170.8 1784) scale(0.975 0.97)">S</text>
<text transform="translate(239.8 1784) scale(0.755 0.97)">E</text>
<text transform="translate(300.1 1784) scale(0.818 0.97)">A</text>
<text transform="translate(374.1 1784) scale(0.826 0.97)">T</text>
<text transform="translate(445.6 1784) scale(0.940 0.97)">R</text>
<text transform="translate(508.8 1784) scale(0.993 0.97)">A</text>
<text transform="translate(585.8 1784) scale(0.853 0.97)">C</text>
<text transform="translate(658.1 1784) scale(0.829 0.97)">K</text>
<text transform="translate(742.6 1784) scale(0.705 0.97)">E</text>
<text transform="translate(803.2 1784) scale(0.854 0.97)">R</text>
<text transform="translate(880.8 1784) scale(0.807 0.97)">.</text>
<text transform="translate(913.1 1784) scale(0.822 0.97)">R</text>
<text transform="translate(993.2 1784) scale(0.800 0.97)">U</text>
</g>
<g font-family="Liberation Serif" font-weight="bold" font-size="114" fill="#fff" stroke="#fff" stroke-width="7.2" stroke-linejoin="round" clip-path="url(#topc)">
<text transform="translate(170.8 1784) scale(0.975 0.97)">S</text>
<text transform="translate(239.8 1784) scale(0.755 0.97)">E</text>
<text transform="translate(300.1 1784) scale(0.818 0.97)">A</text>
<text transform="translate(374.1 1784) scale(0.826 0.97)">T</text>
<text transform="translate(445.6 1784) scale(0.940 0.97)">R</text>
<text transform="translate(508.8 1784) scale(0.993 0.97)">A</text>
<text transform="translate(585.8 1784) scale(0.853 0.97)">C</text>
<text transform="translate(658.1 1784) scale(0.829 0.97)">K</text>
<text transform="translate(742.6 1784) scale(0.705 0.97)">E</text>
<text transform="translate(803.2 1784) scale(0.854 0.97)">R</text>
<text transform="translate(880.8 1784) scale(0.807 0.97)">.</text>
<text transform="translate(913.1 1784) scale(0.822 0.97)">R</text>
<text transform="translate(993.2 1784) scale(0.800 0.97)">U</text>
</g>
<g font-family="Liberation Serif" font-weight="bold" font-size="114" fill="#6aacd0" stroke="#6aacd0" stroke-width="10" stroke-linejoin="round" clip-path="url(#botc)">
<text transform="translate(170.8 1784) scale(0.975 0.97)">S</text>
<text transform="translate(239.8 1784) scale(0.755 0.97)">E</text>
<text transform="translate(300.1 1784) scale(0.818 0.97)">A</text>
<text transform="translate(374.1 1784) scale(0.826 0.97)">T</text>
<text transform="translate(445.6 1784) scale(0.940 0.97)">R</text>
<text transform="translate(508.8 1784) scale(0.993 0.97)">A</text>
<text transform="translate(585.8 1784) scale(0.853 0.97)">C</text>
<text transform="translate(658.1 1784) scale(0.829 0.97)">K</text>
<text transform="translate(742.6 1784) scale(0.705 0.97)">E</text>
<text transform="translate(803.2 1784) scale(0.854 0.97)">R</text>
<text transform="translate(880.8 1784) scale(0.807 0.97)">.</text>
<text transform="translate(913.1 1784) scale(0.822 0.97)">R</text>
<text transform="translate(993.2 1784) scale(0.800 0.97)">U</text>
</g>
</g>
<text transform="translate(653 1013) rotate(-90)" font-family="Liberation Serif" font-size="31.5" fill="#000" stroke="#000" stroke-width="0.35"><tspan font-style="italic">Emerald</tspan>, 1943</text>
</svg>
</body></html>
